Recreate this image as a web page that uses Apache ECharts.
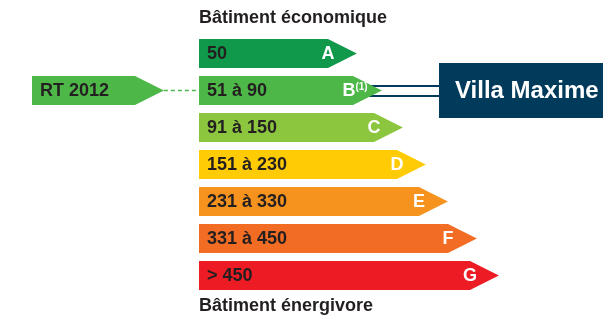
<!DOCTYPE html>
<html>
<head>
<meta charset="utf-8">
<script src="https://cdn.jsdelivr.net/npm/echarts@6/dist/echarts.min.js"></script>
<style>
  html, body { margin: 0; padding: 0; background: #fff; }
  #chart { width: 603px; height: 319px; }
</style>
</head>
<body>
<div id="chart"></div>
<script>
// energy classes, their ranges and how long each arrow body is (axis units)
const classes = ['A', 'B', 'C', 'D', 'E', 'F', 'G'];
const ranges = ['50', '51 à 90', '91 à 150', '151 à 230', '231 à 330', '331 à 450', '> 450'];
const barEnds = [129, 154, 175, 198, 220, 249, 271];

// reference marker on the left (RT 2012) and the building on the right
const refLabel = 'RT 2012';
const refClass = 'B';
const refStart = -167;
const refEnd = -64;

const houseLabel = 'Villa Maxime';
const houseClass = 'B';
const houseStart = 240;
const houseEnd = 404;

const colors = ['#10994a', '#4db848', '#8cc63f', '#ffcb05', '#f6921e', '#f26c24', '#ed1c24'];
const navy = '#003b5c';
const textDark = '#231f20';
const font = 'Liberation Sans, Arial, sans-serif';

const chart = echarts.init(document.getElementById('chart'));

function arrow(x0, x1, cy, h, tip) {
  return [
    [x0, cy - h / 2], [x1, cy - h / 2], [x1 + tip, cy],
    [x1, cy + h / 2], [x0, cy + h / 2]
  ];
}

const option = {
  animation: false,
  title: [
    {
      text: 'Bâtiment économique', left: 199, top: 9, padding: 0,
      textStyle: { fontSize: 18, fontWeight: 'bold', color: textDark, fontFamily: font }
    },
    {
      text: 'Bâtiment énergivore', left: 199, top: 297, padding: 0,
      textStyle: { fontSize: 18, fontWeight: 'bold', color: textDark, fontFamily: font }
    }
  ],
  grid: { left: 0, right: 0, top: 35, height: 259 },
  xAxis: { type: 'value', min: -199, max: 404, show: false },
  yAxis: { type: 'category', data: classes, inverse: true, show: false },
  series: [
    {
      // building box with double connector
      type: 'custom',
      z: 1,
      data: [[houseClass, houseStart, houseEnd]],
      encode: { y: 0, x: [1, 2] },
      renderItem: (params, api) => {
        const ci = api.value(0);
        const pStart = api.coord([api.value(1), ci]);
        const pEnd = api.coord([api.value(2), ci]);
        const lineFrom = api.coord([168, ci]);
        const cy = pStart[1] + 0.5;
        return {
          type: 'group',
          children: [
            { type: 'line', shape: { x1: lineFrom[0], y1: cy - 5, x2: pStart[0], y2: cy - 5 },
              style: { stroke: navy, lineWidth: 2.2 } },
            { type: 'line', shape: { x1: lineFrom[0], y1: cy + 5, x2: pStart[0], y2: cy + 5 },
              style: { stroke: navy, lineWidth: 2.2 } },
            { type: 'rect', shape: { x: pStart[0], y: cy - 28, width: pEnd[0] - pStart[0], height: 55 },
              style: { fill: navy } },
            { type: 'text', x: pStart[0] + 16, y: cy,
              style: { text: houseLabel, fill: '#fff', font: 'bold 24px ' + font,
                       align: 'left', verticalAlign: 'middle' } }
          ]
        };
      }
    },
    {
      // class arrows
      type: 'custom',
      z: 2,
      data: classes.map((c, i) => [c, barEnds[i]]),
      encode: { y: 0, x: 1 },
      renderItem: (params, api) => {
        const ci = api.value(0);
        const p0 = api.coord([0, ci]);
        const p1 = api.coord([api.value(1), ci]);
        const h = api.size([0, 1])[1] * 0.78;
        const idx = params.dataIndex;
        const letter = classes[idx];
        const letterStyle = letter === 'B'
          ? { text: '{l|B}{s|(1)}', rich: {
                l: { fill: '#fff', font: 'bold 18px ' + font },
                s: { fill: '#fff', font: 'bold 10px ' + font, verticalAlign: 'top', padding: [0, 0, 6, 0] }
              } }
          : { text: letter, fill: '#fff', font: 'bold 18px ' + font };
        return {
          type: 'group',
          children: [
            { type: 'polygon', shape: { points: arrow(p0[0], p1[0], p0[1], h, h) },
              style: { fill: colors[idx] } },
            { type: 'text', x: p0[0] + 8, y: p0[1] + 1,
              style: { text: ranges[idx], fill: textDark, font: 'bold 18px ' + font,
                       align: 'left', verticalAlign: 'middle' } },
            { type: 'text', x: p1[0] + (letter === 'B' ? 2 : 0), y: p0[1] + 1,
              style: Object.assign({ align: 'center', verticalAlign: 'middle' }, letterStyle) }
          ]
        };
      }
    },
    {
      // RT 2012 reference arrow with dashed link
      type: 'custom',
      z: 2,
      data: [[refClass, refStart, refEnd]],
      encode: { y: 0, x: [1, 2] },
      renderItem: (params, api) => {
        const ci = api.value(0);
        const p0 = api.coord([api.value(1), ci]);
        const p1 = api.coord([api.value(2), ci]);
        const pBar = api.coord([0, ci]);
        const h = api.size([0, 1])[1] * 0.78;
        return {
          type: 'group',
          children: [
            { type: 'polygon', shape: { points: arrow(p0[0], p1[0], p0[1], h, h) },
              style: { fill: colors[1] } },
            { type: 'line', shape: { x1: p1[0] + h, y1: p0[1], x2: pBar[0], y2: p0[1] },
              style: { stroke: colors[1], lineWidth: 1.5, lineDash: [4, 3] } },
            { type: 'text', x: p0[0] + 8, y: p0[1] + 1,
              style: { text: refLabel, fill: textDark, font: 'bold 18px ' + font,
                       align: 'left', verticalAlign: 'middle' } }
          ]
        };
      }
    }
  ]
};

chart.setOption(option);
</script>
</body>
</html>
